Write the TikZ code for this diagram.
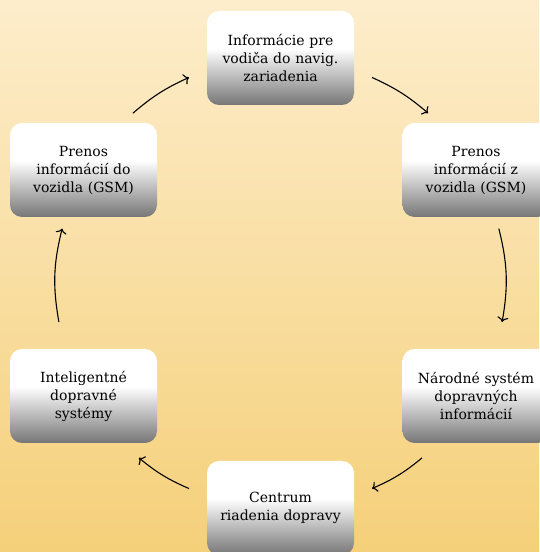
\documentclass[tikz,border=0pt]{standalone}
\usepackage{fontspec}
\setmainfont{DejaVu Serif}
\usepackage{xcolor}
\usepackage{tikz}
\usetikzlibrary{arrows.meta}

\definecolor{bgtop}{HTML}{FDEDCB}
\definecolor{bgbot}{HTML}{F5D07A}
\definecolor{boxgray}{HTML}{767676}
\pgfdeclareverticalshading{boxshade}{100bp}{color(0bp)=(boxgray); color(25bp)=(boxgray); color(55bp)=(white); color(100bp)=(white)}

\tikzset{
  stage/.style={shading=boxshade, rounded corners=12pt, minimum width=147pt,
    minimum height=94pt, text width=140pt, align=center,
    font=\fontsize{14}{18}\selectfont},
  cyc/.style={line width=1.1pt, -{To[length=5pt,width=11pt]}}
}

\begin{document}
\begin{tikzpicture}[x=1pt, y=1pt]
            \useasboundingbox (0,0) rectangle (539,552);
            % Background
            \shade[bottom color=bgbot, top color=bgtop] (0,0) rectangle (539,552);
            % Stages
            \node[stage] (info) at (280.5,494) {Informácie pre\\vodiča do navig.\\zariadenia};
            \node[stage] (prenosz) at (476,382) {Prenos\\informácií z\\vozidla (GSM)};
            \node[stage] (narodne) at (476,156) {Národné systém\\dopravných\\informácií};
            \node[stage] (centrum) at (280.5,44) {Centrum\\riadenia dopravy};
            \node[stage] (intelig) at (83.5,156) {Inteligentné\\dopravné\\systémy};
            \node[stage] (prenosdo) at (83.5,382) {Prenos\\informácií do\\vozidla (GSM)};
            % Cycle arrows
            \coordinate (c) at (280.5,269);
            \path (c) ++(66:225) coordinate (a1);
            \path (c) ++(49:225) coordinate (b1);
            \path (c) ++(14:225) coordinate (a2);
            \path (c) ++(-10:225) coordinate (b2);
            \path (c) ++(-51:225) coordinate (a3);
            \path (c) ++(-66:225) coordinate (b3);
            \path (c) ++(-114:225) coordinate (a4);
            \path (c) ++(-129:225) coordinate (b4);
            \path (c) ++(190:225) coordinate (a5);
            \path (c) ++(166:225) coordinate (b5);
            \path (c) ++(131:225) coordinate (a6);
            \path (c) ++(114:225) coordinate (b6);
            \draw[cyc] (a1) to[bend left=8] (b1);
            \draw[cyc] (a2) to[bend left=12] (b2);
            \draw[cyc] (a3) to[bend left=8] (b3);
            \draw[cyc] (a4) to[bend left=8] (b4);
            \draw[cyc] (a5) to[bend left=12] (b5);
            \draw[cyc] (a6) to[bend left=8] (b6);
        \end{tikzpicture}
\end{document}
